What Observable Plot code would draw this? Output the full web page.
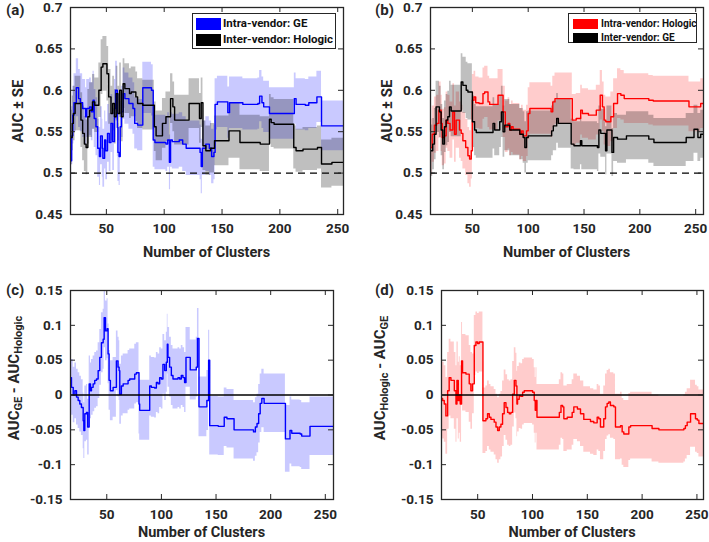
<!DOCTYPE html>
<html><head><meta charset="utf-8">
<script src="https://cdn.jsdelivr.net/npm/d3@7"></script>
<script src="https://cdn.jsdelivr.net/npm/@observablehq/plot@0.6"></script>
<style>
body{margin:0;background:#fff;}
#root{position:relative;width:709px;height:542px;overflow:hidden;background:#fff;font-family:Roboto,"Noto Sans",sans-serif;color:#262626;}
.pn{position:absolute;}
.lab{position:absolute;font-weight:bold;white-space:nowrap;line-height:1;}
.rot{position:absolute;font-weight:bold;white-space:nowrap;line-height:1;transform:translate(-50%,-50%) rotate(-90deg);}
.rot sub{font-size:11px;vertical-align:-3px;line-height:1;}
.leg{position:absolute;background:#fff;border:1px solid #262626;box-sizing:border-box;}
.sw{position:absolute;}
.lt{position:absolute;font-weight:bold;white-space:nowrap;line-height:1;color:#111;transform:translateY(-50%);}
</style></head>
<body><div id="root"></div>
<script>
// ---------- data (cluster count, value) ----------
const xTicks = [50, 100, 150, 200, 250];
const yTicksAUC = [0.45, 0.5, 0.55, 0.6, 0.65, 0.7];
const yTicksDiff = [-0.15, -0.1, -0.05, 0, 0.05, 0.1, 0.15];

// (a) Intra-vendor: GE (blue) and Inter-vendor: Hologic (black)
const aGE = [[19,0.515],[20,0.545],[21,0.57],[22,0.585],[24,0.603],[26,0.59],[27.5,0.585],[29.5,0.578],[32,0.568],[33,0.578],[35.5,0.58],[37,0.574],[38.5,0.588],[39.5,0.566],[41,0.556],[42.5,0.53],[44,0.52],[45,0.545],[46.5,0.53],[47,0.518],[48.5,0.54],[49.5,0.527],[51,0.548],[52.5,0.537],[54,0.56],[55.5,0.538],[57,0.578],[58,0.6],[59.5,0.555],[60,0.525],[61,0.52],[62,0.556],[63,0.574],[64.5,0.596],[66,0.59],[69.5,0.584],[73,0.578],[74.5,0.56],[77,0.558],[81.5,0.603],[89,0.6],[90.5,0.54],[92,0.537],[101.5,0.535],[103,0.54],[104.5,0.513],[105.5,0.54],[107,0.538],[113,0.54],[116,0.535],[119,0.53],[130,0.53],[131,0.525],[132,0.508],[133,0.53],[136,0.535],[139,0.53],[141,0.52],[143,0.525],[144,0.583],[146,0.586],[155,0.573],[156.5,0.585],[168,0.583],[181,0.584],[182.5,0.593],[184.5,0.585],[186,0.58],[191,0.572],[212.5,0.59],[214,0.583],[222,0.582],[225,0.585],[231,0.585],[232,0.592],[236,0.557],[255,0.557]];
const aGE_se = [[0,0.035],[62,0.031],[90,0.033],[144,0.031],[236,0.03]];
const aHol = [[19,0.543],[20.5,0.56],[21.5,0.572],[23,0.584],[28,0.564],[29.5,0.548],[31,0.535],[32.5,0.531],[34,0.568],[35.5,0.576],[38,0.586],[40,0.582],[43.5,0.6],[45.5,0.628],[47,0.632],[50.5,0.62],[52,0.592],[54,0.572],[55.5,0.584],[57,0.568],[58.5,0.596],[60,0.572],[61.5,0.6],[63,0.568],[64.5,0.608],[66,0.602],[70,0.596],[71.5,0.598],[75.5,0.592],[77,0.584],[81.5,0.582],[91.5,0.556],[93,0.545],[98.5,0.56],[101.5,0.568],[105.5,0.59],[107.5,0.58],[109,0.564],[121.5,0.584],[130.5,0.566],[132,0.585],[133.5,0.533],[136,0.527],[140,0.53],[143.5,0.539],[156,0.551],[165.5,0.537],[183,0.535],[191,0.565],[192.5,0.561],[195,0.559],[212,0.531],[214,0.527],[220,0.529],[232.5,0.531],[236,0.511],[245,0.513],[255,0.513]];
const aHol_se = [[0,0.033],[62,0.03],[144,0.033],[191,0.03],[212,0.026],[236,0.029]];

// (b) Intra-vendor: Hologic (red) and Inter-vendor: GE (black)
const bHol = [[12.5,0.531],[14,0.547],[16,0.558],[18,0.56],[20,0.576],[22,0.56],[23,0.543],[25,0.545],[26.5,0.564],[28,0.56],[30,0.552],[32.5,0.574],[34,0.547],[35.5,0.564],[38.5,0.552],[40,0.548],[41.5,0.539],[44,0.531],[46,0.521],[47.5,0.517],[49,0.527],[50,0.588],[51.5,0.592],[53,0.585],[56,0.584],[59.5,0.596],[61,0.598],[64,0.586],[65.5,0.583],[73,0.594],[77.5,0.574],[79.5,0.556],[82,0.56],[83.5,0.552],[85,0.556],[86.5,0.553],[92.5,0.547],[94,0.551],[95.5,0.545],[98.5,0.551],[100,0.572],[101.5,0.578],[120.5,0.574],[122,0.586],[124,0.59],[139.5,0.564],[143,0.566],[147,0.576],[148.5,0.572],[154,0.57],[161,0.576],[164.5,0.594],[166.5,0.58],[168,0.564],[169.5,0.562],[174,0.568],[176.5,0.584],[180,0.596],[183,0.594],[186,0.59],[208,0.588],[212,0.587],[241,0.587],[244,0.58],[254.5,0.584],[257,0.584]];
const bHol_se = [[0,0.034],[50,0.031],[140,0.03]];
const bGE = [[12.5,0.527],[14.5,0.535],[16,0.547],[17.5,0.58],[20.5,0.574],[22,0.552],[23.5,0.535],[25,0.556],[26.5,0.564],[28,0.568],[29.5,0.58],[31,0.575],[40,0.61],[41.5,0.606],[44.5,0.6],[46,0.598],[50,0.562],[52,0.552],[53.5,0.549],[68.5,0.56],[70,0.552],[74.5,0.562],[76,0.574],[77.5,0.55],[79,0.558],[83.5,0.552],[92.5,0.547],[95.5,0.543],[97,0.531],[98.5,0.543],[100,0.545],[121,0.551],[122.5,0.557],[125.5,0.566],[127,0.56],[138.5,0.535],[141,0.533],[146.8,0.539],[148,0.533],[162,0.531],[163.3,0.552],[165,0.548],[169.3,0.527],[170.5,0.552],[175,0.525],[176.5,0.543],[180,0.541],[188,0.545],[208,0.541],[212.6,0.537],[241,0.537],[241.5,0.543],[248.5,0.553],[252,0.543],[254.5,0.547],[257,0.547]];
const bGE_se = [[0,0.031],[40,0.034],[50,0.031],[100,0.03],[139,0.029]];

// (c) AUC_GE - AUC_Hologic
const cDiff = [[16.8,0.025],[17.7,0.011],[19.3,0],[20.8,0.006],[22.3,-0.003],[23.8,-0.008],[25.3,-0.013],[26.8,-0.018],[28.4,-0.037],[29,-0.051],[29.9,-0.027],[31.4,-0.025],[32.5,-0.046],[33.9,0.016],[35.1,0.006],[36,0.011],[37.5,0.016],[39,0.021],[40.6,0.023],[42.1,0.035],[43.6,0.054],[45.1,0.075],[46.7,0.08],[47.6,0.111],[48.8,0.092],[50.3,0.095],[51.2,0.059],[52.1,0.021],[53.3,0.006],[55.8,0.011],[58.8,0.049],[60.3,0.04],[61.3,0.035],[61.9,0.001],[63.4,0.013],[65,0.016],[69.5,0.021],[71,0.023],[75.6,0.03],[77.1,0.032],[79.5,-0.013],[80.1,-0.022],[89.3,0.013],[90.8,0.011],[93.8,0.01],[95.4,0.018],[96.9,0.016],[98.4,0.025],[99.9,0.023],[101.4,0.044],[103,0.035],[104.5,0.047],[105.4,0.073],[106,0.054],[107.5,0.04],[109.1,0.028],[110.6,0.023],[115.2,0.025],[116.7,0.023],[118.2,0.028],[119.7,0.025],[121.2,0.018],[122.5,0.054],[126.4,0.036],[131.9,0.04],[133,0.081],[134.4,-0.017],[141.6,-0.008],[143.2,0.05],[144.2,-0.044],[152,-0.045],[157.5,-0.032],[160,-0.034],[166.5,-0.05],[184.3,-0.053],[186,-0.046],[187.5,-0.041],[189,-0.027],[190.4,-0.012],[191.9,-0.005],[194,-0.012],[213.5,-0.063],[217.7,-0.051],[219.3,-0.055],[227,-0.056],[228.4,-0.059],[236,-0.045],[257.5,-0.045]];
const cDiff_se = [[0,0.04],[45,0.043],[144,0.042],[213,0.048],[236,0.042]];

// (d) AUC_Hologic - AUC_GE
const dDiff = [[17,-0.005],[18,-0.008],[19.5,-0.013],[21,-0.03],[22.6,0.006],[24,0.025],[25.6,0.021],[28.7,0.006],[30.2,-0.013],[31.1,0.021],[32.3,-0.008],[33.2,0],[34.1,-0.013],[35.3,0.049],[36.2,0.032],[39.3,0.03],[42.3,0.016],[43.8,0.006],[45.3,0.016],[46.9,0.071],[48.4,0.076],[49.9,0.074],[51.4,0.076],[54.8,-0.037],[57.5,-0.034],[59,-0.027],[60.6,-0.032],[62.1,-0.035],[65.1,-0.039],[66.7,-0.046],[68.2,-0.051],[69.7,-0.046],[71.2,-0.042],[72.7,-0.027],[74.2,-0.011],[75.8,-0.018],[77.3,-0.025],[78.8,-0.027],[80.3,-0.025],[81.9,0.001],[83.4,0.021],[84.9,0.013],[85.8,-0.013],[86.4,-0.006],[87.9,-0.001],[89.5,-0.002],[91,0.004],[92.5,0.006],[100.1,0.004],[101.6,-0.008],[102.5,-0.022],[103.2,-0.008],[104.1,-0.032],[124.5,-0.025],[126,-0.015],[127.5,-0.017],[128.6,-0.034],[131.7,-0.032],[136.2,-0.025],[137.7,-0.017],[141,-0.02],[143.8,-0.027],[146.8,-0.035],[152.9,-0.038],[155.9,-0.04],[159,-0.032],[160.5,-0.034],[162,-0.046],[165,-0.034],[166.6,-0.017],[168.1,-0.012],[169.6,-0.01],[171.1,-0.015],[174.2,-0.017],[175.7,-0.046],[180.3,-0.044],[181.8,-0.053],[183.3,-0.056],[187.9,-0.046],[189.5,-0.044],[209.1,-0.048],[215.3,-0.05],[238.1,-0.048],[239.5,-0.044],[241.1,-0.039],[244.2,-0.027],[248.7,-0.034],[250.3,-0.036],[251.8,-0.041],[256,-0.041]];
const dDiff_se = [[0,0.055],[45,0.043],[54,0.047],[177,0.048]];

// ---------- helpers ----------
function seAt(table, x) { let s = table[0][1]; for (const [x0, v] of table) if (x >= x0) s = v; return s; }
function rows(series, seTable) { return series.map(([x, y]) => ({x, y, se: seAt(seTable, x)})); }

const root = document.getElementById("root");

function panel({left, top, width, height, mt, mr, mb, ml, xDomain, yDomain, yTicks, series, ref, refDash, xPad}) {
  const ph = height - mt - mb, pw = width - ml - mr;
  const marks = [];
  for (const s of series)
    marks.push(Plot.areaY(s.data, {x: "x", y1: d => d.y - d.se, y2: d => d.y + d.se, curve: "step-after", fill: s.color, fillOpacity: s.op, clip: true}));
  if (refDash) marks.push(Plot.ruleY([ref], {stroke: "#000", strokeWidth: 1.3, strokeDasharray: refDash}));
  for (const s of series)
    marks.push(Plot.line(s.data, {x: "x", y: "y", curve: "step-after", stroke: s.color, strokeWidth: 1.4, clip: true}));
  if (!refDash) marks.push(Plot.ruleY([ref], {stroke: "#000", strokeWidth: 1.6}));
  marks.push(Plot.ruleX(xTicks, {stroke: "#262626", strokeWidth: 1, insetTop: ph - 5}));
  marks.push(Plot.ruleX(xTicks, {stroke: "#262626", strokeWidth: 1, insetBottom: ph - 5}));
  marks.push(Plot.ruleY(yTicks, {stroke: "#262626", strokeWidth: 1, insetRight: pw - 5}));
  marks.push(Plot.ruleY(yTicks, {stroke: "#262626", strokeWidth: 1, insetLeft: pw - 5}));
  marks.push(Plot.frame({stroke: "#262626", strokeWidth: 1.3}));
  marks.push(Plot.axisX(xTicks, {anchor: "bottom", tickSize: 0, tickPadding: xPad, tickFormat: d => String(d), label: null}));
  marks.push(Plot.axisY(yTicks, {anchor: "left", tickSize: 0, tickPadding: 8, tickFormat: d => String(d), label: null}));
  const svg = Plot.plot({
    width, height, marginTop: mt, marginRight: mr, marginBottom: mb, marginLeft: ml,
    x: {type: "linear", domain: xDomain},
    y: {type: "linear", domain: yDomain},
    style: {fontFamily: "Roboto, 'Noto Sans', sans-serif", fontSize: "13.5px", fontWeight: "bold", color: "#262626", background: "transparent", overflow: "visible"},
    marks
  });
  const wrap = document.createElement("div");
  wrap.className = "pn";
  wrap.style.left = left + "px"; wrap.style.top = top + "px";
  wrap.appendChild(svg);
  root.appendChild(wrap);
}

function text(cls, html, styles) {
  const el = document.createElement("div");
  el.className = cls; el.innerHTML = html;
  Object.assign(el.style, styles);
  root.appendChild(el);
  return el;
}

function legend({left, top, width, height, fontSize, items}) {
  const box = document.createElement("div");
  box.className = "leg";
  Object.assign(box.style, {left: left + "px", top: top + "px", width: width + "px", height: height + "px"});
  for (const it of items) {
    const sw = document.createElement("div");
    sw.className = "sw";
    Object.assign(sw.style, {left: it.sx + "px", top: it.sy + "px", width: it.sw + "px", height: it.sh + "px", background: it.color});
    box.appendChild(sw);
    const t = document.createElement("div");
    t.className = "lt"; t.textContent = it.label;
    Object.assign(t.style, {left: it.tx + "px", top: it.ty + "px", fontSize: fontSize + "px"});
    box.appendChild(t);
  }
  root.appendChild(box);
}

// ---------- panels ----------
panel({left: 0, top: 0, width: 354, height: 265, mt: 7, mr: 11, mb: 51, ml: 70,
  xDomain: [19, 255], yDomain: [0.45, 0.7], yTicks: yTicksAUC, ref: 0.5, refDash: "7,5", xPad: 9,
  series: [
    {data: rows(aGE, aGE_se), color: "#0000ff", op: 0.21},
    {data: rows(aHol, aHol_se), color: "#000000", op: 0.25}
  ]});
panel({left: 360, top: 0, width: 349, height: 265, mt: 7, mr: 6, mb: 51, ml: 70,
  xDomain: [12.5, 257], yDomain: [0.45, 0.7], yTicks: yTicksAUC, ref: 0.5, refDash: "7,5", xPad: 9,
  series: [
    {data: rows(bHol, bHol_se), color: "#ff0000", op: 0.2},
    {data: rows(bGE, bGE_se), color: "#000000", op: 0.25}
  ]});
panel({left: 0, top: 270, width: 354, height: 272, mt: 20, mr: 21, mb: 43, ml: 70,
  xDomain: [16.8, 257.5], yDomain: [-0.15, 0.15], yTicks: yTicksDiff, ref: 0, refDash: null, xPad: 10,
  series: [{data: rows(cDiff, cDiff_se), color: "#0000ff", op: 0.21}]});
panel({left: 360, top: 270, width: 349, height: 272, mt: 20, mr: 6, mb: 43, ml: 81,
  xDomain: [17, 256], yDomain: [-0.15, 0.15], yTicks: yTicksDiff, ref: 0, refDash: null, xPad: 10,
  series: [{data: rows(dDiff, dDiff_se), color: "#ff0000", op: 0.2}]});

// ---------- text ----------
const panelLabels = ["(a)", "(b)", "(c)", "(d)"];
text("lab", panelLabels[0], {left: "6px", top: "3px", fontSize: "15px"});
text("lab", panelLabels[1], {left: "375px", top: "3px", fontSize: "15px"});
text("lab", panelLabels[2], {left: "6px", top: "283px", fontSize: "15px"});
text("lab", panelLabels[3], {left: "375px", top: "283px", fontSize: "15px"});

const xTitle = "Number of Clusters";
for (const [cx, cy] of [[206.5, 252.5], [566.5, 252.5], [201.5, 532.5], [572, 532.5]])
  text("lab", xTitle, {left: cx + "px", top: cy + "px", fontSize: "14.5px", transform: "translate(-50%,-50%)"});

text("rot", "AUC \u00b1 SE", {left: "18px", top: "111px", fontSize: "15px"});
text("rot", "AUC \u00b1 SE", {left: "387px", top: "111px", fontSize: "15px"});
text("rot", "AUC<sub>GE</sub> - AUC<sub>Hologic</sub>", {left: "15px", top: "378px", fontSize: "15px"});
text("rot", "AUC<sub>Hologic</sub> - AUC<sub>GE</sub>", {left: "381px", top: "378px", fontSize: "15px"});

// ---------- legends ----------
legend({left: 192, top: 13, width: 144, height: 36, fontSize: 11.5, items: [
  {label: "Intra-vendor: GE", color: "#0000ff", sx: 3, sy: 3.5, sw: 25, sh: 12.5, tx: 30, ty: 10},
  {label: "Inter-vendor: Hologic", color: "#000000", sx: 3, sy: 19.5, sw: 25, sh: 12.5, tx: 30, ty: 26}
]});
legend({left: 568, top: 13, width: 129, height: 30, fontSize: 10, items: [
  {label: "Intra-vendor: Hologic", color: "#ff0000", sx: 4, sy: 4.5, sw: 25, sh: 10, tx: 32, ty: 9.5},
  {label: "Inter-vendor: GE", color: "#000000", sx: 4, sy: 18.5, sw: 25, sh: 10, tx: 32, ty: 23.5}
]});
</script></body></html>
